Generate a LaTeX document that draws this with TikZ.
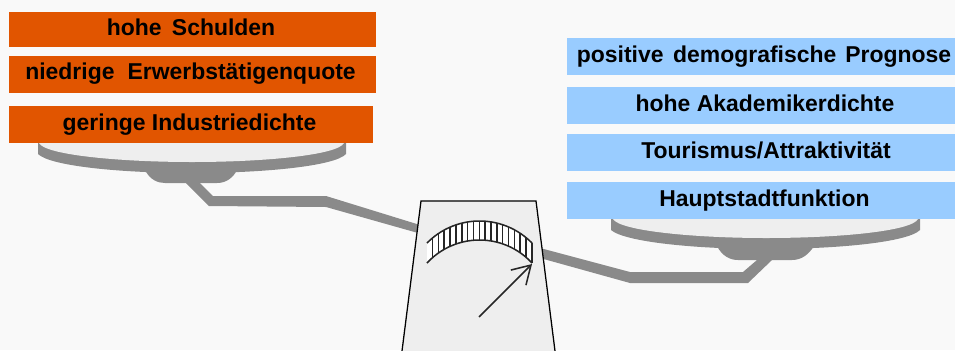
\documentclass[tikz,border=0pt]{standalone}
\usepackage{fontspec}
\setmainfont{Liberation Sans}
\usetikzlibrary{arrows.meta}
\definecolor{bgc}{HTML}{F9F9F9}
\definecolor{orangebox}{HTML}{E15500}
\definecolor{bluebox}{HTML}{99CCFF}
\definecolor{metal}{HTML}{8A8A8A}
\definecolor{pale}{HTML}{EEEEEE}
\tikzset{
  x=0.75pt,y=-0.75pt,
  label box/.style={inner sep=0pt,font=\fontsize{17.2}{20}\selectfont\bfseries,text=black},
  metal part/.style={fill=metal,draw=none},
  pale part/.style={fill=pale,draw=none},
  outline/.style={draw=black,line width=0.95pt},
  thin ink/.style={draw=black!85,line width=1.15pt},
}
% colour, x1,y1,x2,y2, name, text centre x, baseline y, text
\newcommand{\labelbox}[9]{\path[fill=#1] (#2,#3) rectangle (#4,#5); \node[label box,anchor=base] (#6) at (#7,#8) {#9};}
\begin{document}
\begin{tikzpicture}
\useasboundingbox (0,0) rectangle (955,350);
\fill[bgc] (0,0) rectangle (955,350);
% left beam
\path[metal part] (186,183) -- (200,183) -- (213,196) -- (326,196) -- (420,225) -- (418,233) -- (326,207) -- (209,206) -- cycle;
% right beam
\path[metal part] (540,248) -- (630,272) -- (743,272) -- (757,260) -- (772,260) -- (748,283) -- (630,283) -- (540,258) -- cycle;
% left pan
\path[metal part] (145,170) .. controls (150,180) and (158,183) .. (165,183) -- (217,183) .. controls (226,183) and (233,178) .. (237,170) -- cycle;
\path[metal part] (38,143) -- (38,154) .. controls (50,166) and (120,173) .. (192,173) .. controls (265,173) and (335,166) .. (346,154) -- (346,143) -- cycle;
\path[pale part] (39,143) .. controls (45,155) and (120,162) .. (192,162) .. controls (265,162) and (338,155) .. (344,143) -- cycle;
% right pan
\path[metal part] (717,246) .. controls (722,256) and (730,260) .. (738,260) -- (792,260) .. controls (802,260) and (809,254) .. (814,246) -- cycle;
\path[metal part] (611,219) -- (611,230) .. controls (625,242) and (695,249) .. (766,249) .. controls (840,249) and (908,242) .. (920,230) -- (920,219) -- cycle;
\path[pale part] (613,219) .. controls (620,231) and (695,238) .. (766,238) .. controls (840,238) and (912,231) .. (918,219) -- cycle;
% housing
\path[pale part,outline] (402,351) -- (421,201) -- (536,201) -- (555,351);
% scale
\fill[white] plot[domain=-52.5:52.5,samples=30] ({479.5+\x},{294.6-sqrt(5417-\x*\x)}) -- plot[domain=52.5:-52.5,samples=30] ({479.5+\x},{311.4-sqrt(5098-\x*\x)}) -- cycle;
\draw[thin ink] plot[domain=-52.5:52.5,samples=30] ({479.5+\x},{294.6-sqrt(5417-\x*\x)});
\draw[thin ink] plot[domain=-52.5:52.5,samples=30] ({479.5+\x},{311.4-sqrt(5098-\x*\x)});
\foreach \d in {-47.0,-41.15,...,53} {
  \draw[thin ink] ({479.5+\d},{294.6-sqrt(5417-\d*\d)}) -- ({479.5+\d},{311.4-sqrt(5098-\d*\d)});
}
% needle
\coordinate (needle base) at (479,317);
\coordinate (needle tip) at (532,264);
\draw[thin ink,-{Straight Barb[length=13.3pt,width=16pt]}] (needle base) -- (needle tip);
% labels
\labelbox{orangebox}{9}{12}{376}{47}{schulden}{191}{35.7}{hohe\hspace{3pt} Schulden}
\labelbox{orangebox}{9}{56}{376}{93}{erwerb}{190.5}{79.3}{niedrige\hspace{5pt} Erwerbstätigenquote}
\labelbox{orangebox}{9}{106}{373}{143}{industrie}{189.5}{130}{geringe Industriedichte}
\labelbox{bluebox}{567}{38}{955}{75}{prognose}{764}{62.3}{positive\hspace{2.5pt} demografische\hspace{2pt} Prognose}
\labelbox{bluebox}{567}{87}{955}{124}{akademiker}{765}{111.5}{hohe Akademikerdichte}
\labelbox{bluebox}{567}{134}{955}{171}{tourismus}{766}{158.3}{Tourismus/Attraktivität}
\labelbox{bluebox}{567}{182}{955}{219}{hauptstadt}{764.5}{206}{Hauptstadtfunktion}
\end{tikzpicture}
\end{document}
